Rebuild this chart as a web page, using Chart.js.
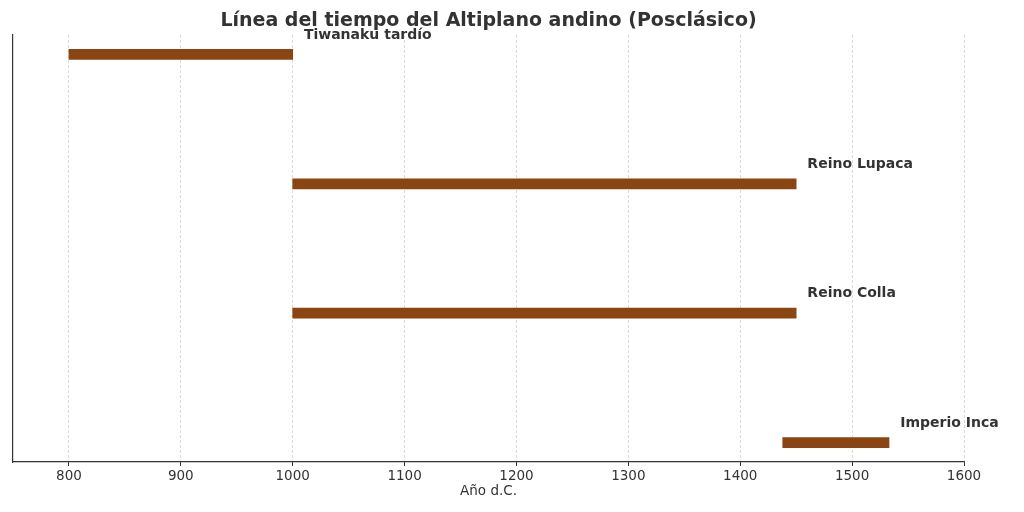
<!DOCTYPE html>
<html>
<head>
<meta charset="utf-8">
<script src="https://cdn.jsdelivr.net/npm/chart.js@4/dist/chart.umd.min.js"></script>
<style>
html,body{margin:0;padding:0;background:#ffffff;}
#wrap{width:1024px;height:512px;position:relative;}
</style>
</head>
<body>
<div id="wrap"><canvas id="c" width="1024" height="512"></canvas></div>
<script>
const periods = ["Imperio Inca", "Reino Colla", "Reino Lupaca", "Tiwanaku tardío"];
const startYears = [1438, 1000, 1000, 800];
const endYears = [1533, 1450, 1450, 1000];
const xTicks = [800, 900, 1000, 1100, 1200, 1300, 1400, 1500, 1600];
const titleText = "Línea del tiempo del Altiplano andino (Posclásico)";
const xTitle = "Año d.C.";

const FONT = "'DejaVu Sans', sans-serif";
const TEXT = "#333333";

const data = periods.map((p, i) => ({ x: [startYears[i], endYears[i]], y: i }));

const labelPlugin = {
  id: 'labels',
  afterDatasetsDraw(chart) {
    const ctx = chart.ctx;
    const xs = chart.scales.x, ys = chart.scales.y;
    ctx.save();
    ctx.fillStyle = TEXT;
    ctx.font = "bold 14px " + FONT;
    ctx.textAlign = 'left';
    ctx.textBaseline = 'middle';
    periods.forEach((p, i) => {
      ctx.fillText(p, xs.getPixelForValue(endYears[i] + 10), ys.getPixelForValue(i + 0.15));
    });
    const ca = chart.chartArea;
    ctx.font = "bold 19px " + FONT;
    ctx.textAlign = 'center';
    ctx.fillText(titleText, (ca.left + ca.right) / 2, 21);
    ctx.font = "13.5px " + FONT;
    ctx.fillText(xTitle, (ca.left + ca.right) / 2, 491);
    ctx.restore();
  }
};

new Chart(document.getElementById('c'), {
  type: 'bar',
  data: {
    datasets: [{
      data: data,
      backgroundColor: '#8B4513',
      borderColor: '#8B4513',
      borderWidth: 0,
      barThickness: 10,
      borderSkipped: false
    }]
  },
  options: {
    indexAxis: 'y',
    responsive: false,
    animation: false,
    devicePixelRatio: 1,
    layout: { padding: { top: 35, right: 60, left: 0, bottom: 0 } },
    plugins: { legend: { display: false }, tooltip: { enabled: false }, title: { display: false } },
    scales: {
      x: {
        type: 'linear',
        min: 750, max: 1600,
        afterBuildTicks(scale) { scale.ticks = xTicks.map(v => ({ value: v })); },
        afterFit(scale) { scale.height = 50; },
        grid: {
          color: '#d0d0d0',
          lineWidth: 0.8,
          tickColor: TEXT,
          tickLength: 4,
          tickBorderDash: [],
          tickWidth: 1
        },
        border: { display: true, color: TEXT, width: 1.2, dash: [3, 2] },
        ticks: {
          color: TEXT, font: { family: FONT, size: 13.5 }, padding: 2, maxRotation: 0,
          callback: (v) => String(v)
        }
      },
      y: {
        type: 'linear',
        offset: false,
        min: -0.15, max: 3.15,
        afterFit(scale) { scale.width = 13; },
        grid: { display: false, drawTicks: false },
        border: { display: true, color: TEXT, width: 1.2 },
        ticks: { display: false }
      }
    }
  },
  plugins: [labelPlugin]
});
</script>
</body>
</html>
